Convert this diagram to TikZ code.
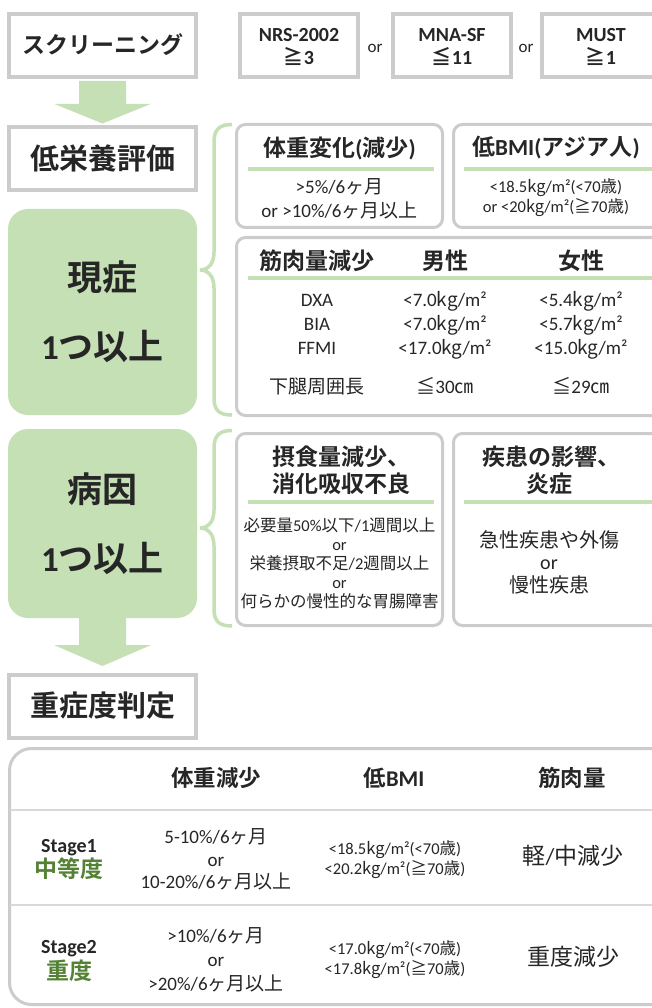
\documentclass[tikz,border=0pt]{standalone}
\usepackage{fontspec}
\setmainfont{Carlito}
\newfontfamily\jpfam{Noto Sans CJK JP}[BoldFont={Noto Sans CJK JP Bold}]
\usetikzlibrary{calc}
% automatic font switching for Japanese characters
\XeTeXinterchartokenstate=1
\newXeTeXintercharclass\JPc
\newcount\jpi
\def\setjprange#1#2{\jpi=#1\relax\loop\XeTeXcharclass\jpi=\JPc\relax\ifnum\jpi<#2\advance\jpi by 1\repeat}
\setjprange{"3000}{"30FF}
\setjprange{"4E00}{"9FFF}
\setjprange{"FF00}{"FFEF}
\XeTeXcharclass"2266=\JPc
\XeTeXcharclass"2267=\JPc
\XeTeXcharclass"339D=\JPc
\XeTeXinterchartoks 0 \JPc = {\jpfam}
\XeTeXinterchartoks 4095 \JPc = {\jpfam}
\XeTeXinterchartoks \JPc 0 = {\rmfamily}
\XeTeXinterchartoks \JPc 4095 = {\rmfamily}
\newcommand\kgm{{\jpfam kg}/m²}
\definecolor{boxgray}{RGB}{204,204,204}
\definecolor{lgreen}{RGB}{197,224,180}
\definecolor{dgreen}{RGB}{84,130,53}
\definecolor{textc}{RGB}{38,38,38}
\definecolor{sepgray}{RGB}{217,217,217}
\tikzset{
  sqbox/.style={draw=boxgray, line width=4pt, fill=white, inner sep=0pt, minimum width=187pt, minimum height=63pt},
  rbox/.style={draw=boxgray, line width=3pt, fill=white, rounded corners=9pt, inner sep=0pt},
  gbox/.style={fill=lgreen, rounded corners=20pt, inner sep=0pt, minimum width=189pt},
  gline/.style={draw=lgreen, line width=4pt},
  bracepath/.style={draw=lgreen, line width=3.5pt},
  arrowfill/.style={fill=lgreen},
  rowsep/.style={draw=sepgray, line width=2pt},
  r16/.style={inner sep=0pt, text=textc, font=\fontsize{16.5}{19}\selectfont, text height=14.2pt, text depth=2.3pt},
  r17/.style={inner sep=0pt, text=textc, font=\fontsize{17}{20}\selectfont, text height=14.62pt, text depth=2.38pt},
  r19/.style={inner sep=0pt, text=textc, font=\fontsize{19}{22}\selectfont, text height=16.34pt, text depth=2.66pt},
  r20/.style={inner sep=0pt, text=textc, font=\fontsize{20}{23}\selectfont, text height=17.2pt, text depth=2.8pt},
  r23/.style={inner sep=0pt, text=textc, font=\fontsize{23}{26}\selectfont, text height=19.78pt, text depth=3.22pt},
  b20/.style={inner sep=0pt, text=textc, font=\fontsize{20}{23}\selectfont\bfseries, text height=17.2pt, text depth=2.8pt},
  b22/.style={inner sep=0pt, text=textc, font=\fontsize{22.5}{25}\selectfont\bfseries, text height=19.35pt, text depth=3.15pt},
  b23/.style={inner sep=0pt, text=textc, font=\fontsize{23}{26}\selectfont\bfseries, text height=19.78pt, text depth=3.22pt},
  b29/.style={inner sep=0pt, text=textc, font=\fontsize{29}{32}\selectfont\bfseries, text height=24.94pt, text depth=4.06pt},
  b35/.style={inner sep=0pt, text=textc, font=\fontsize{35}{38}\selectfont\bfseries, text height=30.1pt, text depth=4.9pt},
}
\begin{document}
\begin{tikzpicture}[x=1pt,y=-1pt]
\useasboundingbox (0,0) rectangle (652,1008);
\fill[white] (0,0) rectangle (652,1008);

% ---------- top row ----------
\node[sqbox] (scr) at (102.5,45.5) {};
\node[b23] (scrT) at (scr.center) {スクリーニング};
\node[sqbox, minimum width=118pt] (nrs) at (299,45.5) {};
\node[b20] (nrsA) at (299,34) {NRS-2002};
\node[b20] (nrsB) at (299,57) {≧3};
\node[r17] (or1) at (375,46) {or};
\node[sqbox, minimum width=118pt] (mna) at (452,45.5) {};
\node[b20] (mnaA) at (452,34) {MNA-SF};
\node[b20] (mnaB) at (452,57) {≦11};
\node[r17] (or2) at (526,46) {or};
\node[sqbox, minimum width=124pt] (must) at (604,45.5) {};
\node[b20] (mustA) at (601,34) {MUST};
\node[b20] (mustB) at (601,57) {≧1};

% ---------- left column ----------
\node[sqbox] (eval) at (102.5,159) {};
\node[b29] (evalT) at (eval.center) {低栄養評価};
\node[gbox, minimum height=206pt] (sym) at (102.5,312) {};
\node[b35] (symA) at (102.5,278) {現症};
\node[b35] (symB) at (102.5,347) {1つ以上};
\node[gbox, minimum height=189pt] (cause) at (102.5,523.5) {};
\node[b35] (causeA) at (102.5,490) {病因};
\node[b35] (causeB) at (102.5,559) {1つ以上};
\node[sqbox] (sev) at (102.5,706.5) {};
\node[b29] (sevT) at (sev.center) {重症度判定};

% ---------- arrows ----------
\fill[arrowfill] ($(scr.south)+(-23.5,2)$) -- ($(scr.south)+(23.5,2)$) -- ($(scr.south)+(23.5,25)$)
  -- ($(scr.south)+(48,25)$) -- ($(eval.north)+(0,-2)$) -- ($(scr.south)+(-48,25)$)
  -- ($(scr.south)+(-23.5,25)$) -- cycle;
\fill[arrowfill] ($(cause.south)+(-23.5,-1)$) -- ($(cause.south)+(23.5,-1)$) -- ($(cause.south)+(23.5,27)$)
  -- ($(cause.south)+(48,27)$) -- ($(sev.north)+(0,-7)$) -- ($(cause.south)+(-48,27)$)
  -- ($(cause.south)+(-23.5,27)$) -- cycle;

% ---------- braces ----------
\coordinate (b1t) at (232,124.5);
\coordinate (b1m) at (200,270);
\coordinate (b1b) at (232,415);
\draw[bracepath] (b1t) .. controls (220,124.5) and (214,129) .. (214,142) -- (214,252)
  .. controls (214,264) and (208,270) .. (b1m) .. controls (208,270) and (214,276) .. (214,288)
  -- (214,398) .. controls (214,411) and (220,415) .. (b1b);
\coordinate (b2t) at (232,430.5);
\coordinate (b2m) at (200,528);
\coordinate (b2b) at (232,626);
\draw[bracepath] (b2t) .. controls (220,430.5) and (214,435) .. (214,448) -- (214,510)
  .. controls (214,522) and (208,528) .. (b2m) .. controls (208,528) and (214,534) .. (214,546)
  -- (214,609) .. controls (214,622) and (220,626) .. (b2b);

% ---------- weight change ----------
\node[rbox, minimum width=206pt, minimum height=103pt] (wt) at (339.5,176) {};
\draw[gline] (248,169) -- (434,169);
\node[b23] (wtT) at (339.5,148) {体重変化(減少)};
\node[r19] (wt1) at (339.5,187) {>5\%/6ヶ月};
\node[r19] (wt2) at (339.5,211) {or >10\%/6ヶ月以上};

% ---------- low BMI ----------
\node[rbox, minimum width=207pt, minimum height=103pt] (bmi) at (557,176) {};
\draw[gline] (464,169) -- (652,169);
\node[b23] (bmiT) at (556,147) {低BMI(アジア人)};
\node[r16] (bmi1) at (556,187) {<18.5\kgm(<70歳)};
\node[r16] (bmi2) at (556,207) {or <20\kgm(≧70歳)};

% ---------- muscle ----------
\node[rbox, minimum width=432pt, minimum height=178pt] (mus) at (452.5,326.5) {};
\draw[gline] (248,278) -- (652,278);
\node[b23] (musT) at (317,261) {筋肉量減少};
\node[b23] (musM) at (445,261) {男性};
\node[b23] (musF) at (581,261) {女性};
\node[r19] (m1a) at (317,300) {DXA};
\node[r19] (m1b) at (445,300) {<7.0\kgm};
\node[r19] (m1c) at (581,300) {<5.4\kgm};
\node[r19] (m2a) at (317,324) {BIA};
\node[r19] (m2b) at (445,324) {<7.0\kgm};
\node[r19] (m2c) at (581,324) {<5.7\kgm};
\node[r19] (m3a) at (317,348) {FFMI};
\node[r19] (m3b) at (445,348) {<17.0\kgm};
\node[r19] (m3c) at (581,348) {<15.0\kgm};
\node[r19] (m4a) at (317,387) {下腿周囲長};
\node[r19] (m4b) at (445,387) {≦30㎝};
\node[r19] (m4c) at (581,387) {≦29㎝};

% ---------- intake ----------
\node[rbox, minimum width=206pt, minimum height=192pt] (intake) at (339.5,529.5) {};
\draw[gline] (248,502) -- (434,502);
\node[b23] (inT1) at (341,457) {摂食量減少、};
\node[b23] (inT2) at (341,484) {消化吸収不良};
\node[r16] (in1) at (339.5,526) {必要量50\%以下/1週間以上};
\node[r16] (in2) at (339.5,545) {or};
\node[r16] (in3) at (339.5,564) {栄養摂取不足/2週間以上};
\node[r16] (in4) at (339.5,583) {or};
\node[r16] (in5) at (339.5,602) {何らかの慢性的な胃腸障害};

% ---------- disease ----------
\node[rbox, minimum width=207pt, minimum height=192pt] (dis) at (557,529.5) {};
\draw[gline] (464,502) -- (652,502);
\node[b23] (diT1) at (551,457) {疾患の影響、};
\node[b23] (diT2) at (549,484) {炎症};
\node[r20] (di1) at (549,540) {急性疾患や外傷};
\node[r20] (di2) at (549,562) {or};
\node[r20] (di3) at (549,585) {慢性疾患};

% ---------- severity table ----------
\node[rbox, rounded corners=22pt, minimum width=671pt, minimum height=256pt] (tbl) at (345,876.5) {};
\draw[rowsep] (10,810) -- (652,810);
\draw[rowsep] (10,905) -- (652,905);
\node[b22] (hW) at (216,778) {体重減少};
\node[b22] (hB) at (394,778) {低BMI};
\node[b22] (hM) at (572,778) {筋肉量};
\node[b20] (s1) at (69,845) {Stage1};
\node[b23, text=dgreen] (s1g) at (69,869) {中等度};
\node[r19] (s1w1) at (216,837) {5-10\%/6ヶ月};
\node[r19] (s1w2) at (216,860) {or};
\node[r19] (s1w3) at (216,882) {10-20\%/6ヶ月以上};
\node[r16] (s1b1) at (395,849) {<18.5\kgm(<70歳)};
\node[r16] (s1b2) at (395,869) {<20.2\kgm(≧70歳)};
\node[r23] (s1m) at (573,856) {軽/中減少};
\node[b20] (s2) at (69,946) {Stage2};
\node[b23, text=dgreen] (s2g) at (69,971) {重度};
\node[r19] (s2w1) at (216,936) {>10\%/6ヶ月};
\node[r19] (s2w2) at (216,960) {or};
\node[r19] (s2w3) at (216,984) {>20\%/6ヶ月以上};
\node[r16] (s2b1) at (395,949) {<17.0\kgm(<70歳)};
\node[r16] (s2b2) at (395,969) {<17.8\kgm(≧70歳)};
\node[r23] (s2m) at (573,957) {重度減少};
\end{tikzpicture}
\end{document}
